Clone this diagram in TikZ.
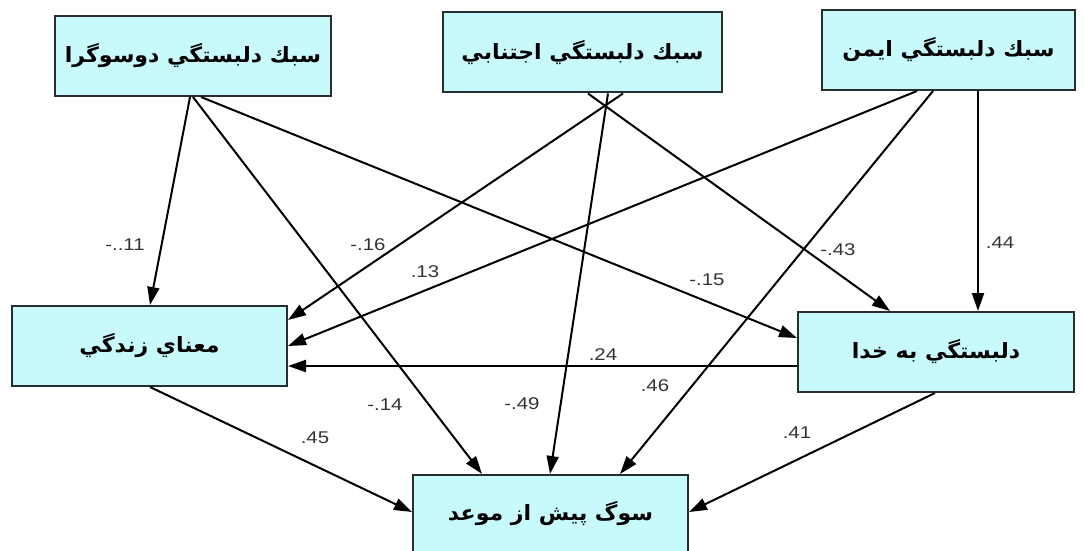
\documentclass[tikz,border=0pt]{standalone}
\usepackage{fontspec}
\setmainfont{Liberation Sans}
\newfontfamily\arabicfont[Script=Arabic]{DejaVu Sans}
\TeXXeTstate=1
\usetikzlibrary{arrows.meta}
\definecolor{boxfill}{HTML}{C8FAFC}
\definecolor{boxline}{HTML}{262E2E}
\definecolor{lbl}{HTML}{333333}
\newcommand\fa[1]{\scalebox{1.05}[1]{\beginR #1\endR}}
\newcommand\cf[1]{\scalebox{1.2}[1]{#1}}
\begin{document}
\begin{tikzpicture}[x=1pt,y=-1pt,
  var/.style={draw=boxline,line width=2pt,fill=boxfill,minimum width=#1,minimum height=80pt,inner sep=0pt,
    font=\arabicfont\bfseries\fontsize{21}{24}\selectfont},
  path/.style={draw=black,line width=2pt,-{Triangle[length=18pt,width=12pt]}},
  coef/.style={text=lbl,font=\fontsize{17}{20}\selectfont,inner sep=0pt}]
\useasboundingbox (0,0) rectangle (1085,551);
\node[var=276pt] (A) at (193,56) {\fa{سبك دلبستگي دوسوگرا}};
\node[var=279pt] (B) at (582.5,52.5) {\fa{سبك دلبستگي اجتنابي}};
\node[var=253pt] (C) at (948.5,50) {\fa{سبك دلبستگي ايمن}};
\node[var=275pt] (D) at (149.5,346) {\fa{معناي زندگي}};
\node[var=276pt] (E) at (936,352) {\fa{دلبستگي به خدا}};
\node[var=275pt,minimum height=78pt] (F) at (550.5,514) {\fa{سوگ پيش از موعد}};
% paths
\draw[path] ([xshift=-3pt]A.south) -- ([xshift=0.5pt]D.north);
\draw[path] (A.south) -- ([xshift=-68.5pt]F.north);
\draw[path] ([xshift=8pt]A.south) -- ([yshift=14pt]E.west);
\draw[path] ([xshift=40.5pt]B.south) -- ([yshift=26pt]D.east);
\draw[path] ([xshift=25.5pt]B.south) -- ([xshift=-0.5pt]F.north);
\draw[path] ([xshift=5.5pt]B.south) -- ([xshift=-46pt]E.north);
\draw[path] ([xshift=-31.5pt]C.south) -- (D.east);
\draw[path] ([xshift=-15.5pt]C.south) -- ([xshift=69.5pt]F.north);
\draw[path] ([xshift=29.5pt]C.south) -- ([xshift=42pt]E.north);
\draw[path] ([yshift=-14pt]E.west) -- ([yshift=-20pt]D.east);
\draw[path] ([xshift=0.5pt]D.south) -- ([yshift=2pt]F.west);
\draw[path] ([xshift=-1pt]E.south) -- ([yshift=2pt]F.east);
% coefficients
\node[coef] (l1) at (125,245) {\cf{-..11}};
\node[coef] (l2) at (368,245) {\cf{-.16}};
\node[coef] (l3) at (425,272) {\cf{.13}};
\node[coef] (l4) at (707,280) {\cf{-.15}};
\node[coef] (l5) at (838,250) {\cf{-.43}};
\node[coef] (l6) at (1000,243) {\cf{.44}};
\node[coef] (l7) at (603,355) {\cf{.24}};
\node[coef] (l8) at (655,386) {\cf{.46}};
\node[coef] (l9) at (385,405) {\cf{-.14}};
\node[coef] (l10) at (522,404) {\cf{-.49}};
\node[coef] (l11) at (315,438) {\cf{.45}};
\node[coef] (l12) at (797,433) {\cf{.41}};
\end{tikzpicture}
\end{document}
